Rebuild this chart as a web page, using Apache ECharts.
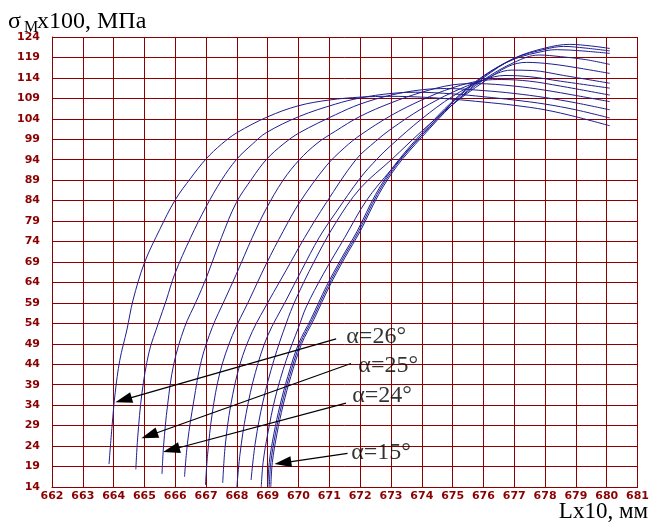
<!DOCTYPE html>
<html>
<head>
<meta charset="utf-8">
<script src="https://cdn.jsdelivr.net/npm/echarts@6/dist/echarts.min.js"></script>
<style>
html,body{margin:0;padding:0;background:#fff;}
#c{width:652px;height:523px;}
</style>
</head>
<body>
<div id="c"></div>
<script>
// ---- data (X = L x10, mm ; Y = sigma_M x100, MPa) ----
const alpha26 = [[663.85,19.6],[663.95,29],[664.05,37],[664.2,45],[664.43,52.4],[664.63,59.7],[665.0,68.8],[665.5,77],[666.0,84.2],[666.5,89.5],[667.0,94.2],[667.5,97.8],[668.0,100.6],[669.0,104.5],[670.0,107.2],[671.0,108.6],[672,109.3],[673,109.5],[674,109.3],[675,108.8],[676,108.1],[677,107.3],[678,106.2],[679,104.5],[680.1,102.3]];
const alpha25 = [[664.72,18.3],[664.78,26],[664.92,37],[665.15,47],[665.45,54],[665.71,59.7],[665.98,66],[666.5,75],[667.0,82.5],[667.5,89],[667.98,94],[668.5,97.8],[668.95,100.6],[670.03,104.6],[671.2,107.6],[672,109.1],[673,110.2],[673.8,110.5],[675,110.1],[676,109.4],[677,108.6],[678,107.6],[679,106.2],[680.1,104.2]];
const alpha24 = [[665.57,17.2],[665.62,24],[665.75,34],[665.95,44],[666.3,53],[666.7,59.7],[667.0,65],[667.5,75],[667.98,83.5],[668.5,89.5],[668.95,94],[669.5,97.8],[670.03,100.6],[671.2,105],[672,107.6],[673,109.8],[674,111.1],[674.8,111.4],[676,110.9],[677,110.2],[678,109.2],[679,107.9],[680.1,106.2]];
const alpha23 = [[666.3,16.5],[666.4,25],[666.6,35],[666.85,45],[667.2,53],[667.6,59.7],[667.98,66],[668.5,75],[668.95,82],[669.5,89],[670.03,94],[670.6,98],[671.2,101],[672,104.6],[673,107.9],[674,110.5],[675,112.3],[675.8,112.6],[677,112],[678,111],[679,109.7],[680.1,108.2]];
const alpha22 = [[666.98,14.5],[667.05,22],[667.2,32],[667.45,42],[667.85,51],[668.4,59.7],[668.95,68.5],[669.5,76.5],[670.03,83.5],[670.9,92.5],[671.5,97],[672,100],[673,104.8],[674,108.6],[675,111.6],[676,113.4],[676.6,113.6],[677.5,113.2],[678.5,112],[680.1,109.8]];
const alpha21 = [[667.54,15],[667.62,24],[667.8,34],[668.1,44],[668.5,52],[669.05,59.7],[669.6,67],[670.2,75],[670.9,83.5],[671.86,94],[672.5,98.5],[673,101.5],[674,106.5],[675,110.5],[676,113.5],[676.7,114.6],[677.5,114.3],[678.5,113.2],[680.1,111.5]];
const alpha20 = [[668.0,14],[668.1,22],[668.3,32],[668.6,42],[669.0,51],[669.6,59.7],[670.1,67],[670.67,75],[671.2,81],[672,89.5],[672.55,94.2],[673,97.5],[674,104],[675,109.5],[676,113.5],[676.9,115.9],[677.6,115.8],[678.6,114.6],[680.1,112.7]];
const alpha19 = [[668.46,15.7],[668.6,25],[668.85,35],[669.2,45],[669.6,54],[669.9,59.7],[670.5,69],[671.2,78.5],[672,87],[673.04,94.2],[674,101],[675,107.5],[676,113],[676.8,116.8],[677.4,117.8],[678.2,117.4],[679.1,116.4],[680.1,115.1]];
const alpha18 = [[668.79,14],[668.85,20],[669.0,27],[669.25,36],[669.6,45],[670.0,53],[670.25,58],[670.8,66],[671.5,75],[672.2,84],[673,91.5],[674,100],[675,107.5],[676,113.5],[677,117.8],[677.8,119.6],[678.5,119.2],[679.3,118.5],[680.1,117.3]];
const alpha17 = [[669.0,14],[669.05,20],[669.2,27],[669.4,34],[669.65,41],[670.0,49],[670.4,55],[670.9,63],[671.4,70],[671.9,76.5],[672.5,85.5],[673.1,92.5],[674,100.5],[675,108.3],[676,114.5],[677,118.6],[678,120.6],[678.4,120.9],[679.2,120.6],[680.1,120.0]];
const alpha16 = [[669.05,14],[669.1,20],[669.25,27],[669.45,34],[669.7,41],[670.05,49],[670.45,55],[670.95,63],[671.45,70],[671.95,76.5],[672.55,85.5],[673.15,92.5],[674,100],[675,108],[676,114.3],[677,118.8],[678,121],[678.6,121.7],[679.3,121.3],[680.1,120.6]];
const alpha15 = [[669.1,14],[669.15,20],[669.3,27],[669.5,34],[669.75,41],[670.1,49],[670.5,55],[671,63],[671.5,70],[672,76.5],[672.6,85.5],[673.2,92.5],[674,99.5],[675,107.5],[676,114],[677,118.8],[678,121.3],[678.8,122.2],[679.5,121.8],[680.1,121.2]];

const curveNames = ['α=26°','α=25°','α=24°','α=23°','α=22°','α=21°','α=20°','α=19°','α=18°','α=17°','α=16°','α=15°'];
const curves = [alpha26,alpha25,alpha24,alpha23,alpha22,alpha21,alpha20,alpha19,alpha18,alpha17,alpha16,alpha15];

const yTicks = [14,19,24,29,34,39,44,49,54,59,64,69,74,79,84,89,94,99,104,109,114,119,124];
const xMin = 662, xMax = 681;

// annotation callouts
const calloutLabels = ['α=26°','α=25°','α=24°','α=15°'];
const calloutLabelPos = [[671.55,50.7],[671.94,43.6],[671.74,36.2],[671.71,22.3]];
const calloutStart = [[671.22,50.2],[671.7,44.2],[671.54,34.5],[671.59,22.2]];
const calloutTip = [[664.32,35.3],[665.16,26.6],[665.87,23.1],[669.49,19.9]];

const gridColor = '#8e0000';
const labelFont = {color:'#8b0000', fontFamily:'DejaVu Sans', fontWeight:'bold', fontSize:11};

const series = curves.map((d,i)=>({
  type:'line', name:curveNames[i], data:d, showSymbol:false, smooth:0.35,
  lineStyle:{color:'#1e1e90', width:1}, silent:true, z:3
}));

series.push({
  type:'line', name:'arrows', data:[], silent:true,
  markLine:{
    silent:true, animation:false,
    symbol:['none','triangle'], symbolSize:[11,17],
    itemStyle:{color:'#000'},
    lineStyle:{color:'#000', width:1.2, type:'solid'},
    label:{show:false},
    data: calloutStart.map((s,i)=>[{coord:s},{coord:calloutTip[i]}])
  }
});

series.push({
  type:'scatter', name:'labels', symbolSize:0, silent:true,
  data: calloutLabelPos.map((p,i)=>({value:p, name:calloutLabels[i]})),
  label:{show:true, position:'right', distance:0, formatter:p=>p.name,
    color:'#000', fontFamily:'Liberation Serif', fontSize:24}
});

const chart = echarts.init(document.getElementById('c'), null, {renderer:'canvas'});
chart.setOption({
  animation:false,
  backgroundColor:'#fff',
  grid:{left:52, top:37, right:13, bottom:36, containLabel:false},
  xAxis:{
    type:'value', min:xMin, max:xMax, interval:1,
    axisLine:{show:true, lineStyle:{color:gridColor, width:1}},
    axisTick:{show:false},
    splitLine:{show:true, lineStyle:{color:gridColor, width:1}},
    axisLabel:Object.assign({margin:4, showMinLabel:true, showMaxLabel:true}, labelFont)
  },
  yAxis:{
    type:'value', min:14, max:124,
    axisLine:{show:true, lineStyle:{color:gridColor, width:1}},
    axisTick:{show:false, customValues:yTicks},
    splitLine:{show:true, lineStyle:{color:gridColor, width:1}},
    axisLabel:Object.assign({margin:12, customValues:yTicks, showMinLabel:true, showMaxLabel:true}, labelFont)
  },
  graphic:[
    {type:'text', left:8, top:10, style:{text:'σ', font:'24px "Liberation Serif"', fill:'#000'}},
    {type:'text', left:24, top:20, style:{text:'M', font:'16px "Liberation Serif"', fill:'#000'}},
    {type:'text', left:37, top:10, style:{text:'x100, МПа', font:'24px "Liberation Serif"', fill:'#000'}},
    {type:'text', right:4, top:500, style:{text:'Lx10, мм', font:'23px "Liberation Serif"', fill:'#000'}}
  ],
  series:series
});
</script>
</body>
</html>
